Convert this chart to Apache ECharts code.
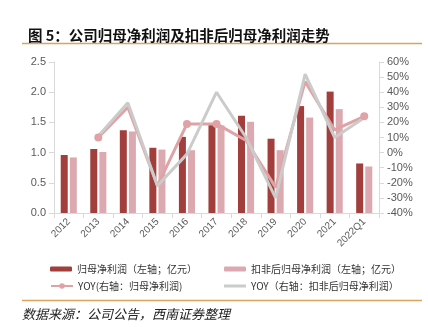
<!DOCTYPE html>
<html>
<head>
<meta charset="utf-8">
<script src="https://cdn.jsdelivr.net/npm/echarts@6/dist/echarts.min.js"></script>
<style>
  html, body { margin: 0; padding: 0; background: #fff; }
  #chart { width: 428px; height: 327px; }
</style>
</head>
<body>
<div id="chart"></div>
<script>
// Categories (years)
const categories = ['2012', '2013', '2014', '2015', '2016', '2017', '2018', '2019', '2020', '2021', '2022Q1'];
// Net profit attributable to parent (亿元)
const netProfit = [0.96, 1.06, 1.37, 1.08, 1.26, 1.47, 1.61, 1.23, 1.77, 2.01, 0.82];
// Net profit excluding non-recurring items (亿元)
const netProfitDeducted = [0.92, 1.01, 1.35, 1.05, 1.04, 1.45, 1.51, 1.04, 1.58, 1.72, 0.77];
// YoY growth, %
const yoyNetProfit = [null, 10, 30, -22, 19, 19, 8, -23, 47, 15, 24];
const yoyDeducted = [null, 11, 33, -22, -1, 40, 10, -30, 52, 10, 23];
// Points of the YoY line that carry a round marker
const markedPoints = ['2013', '2016', '2017', '2022Q1'];

const leftTicks = { min: 0, max: 2.5, interval: 0.5 };
const rightTicks = { min: -40, max: 60, interval: 10 };

const seriesNames = ['归母净利润（左轴；亿元）', '扣非后归母净利润（左轴；亿元）', 'YOY(右轴：归母净利润)', 'YOY（右轴：扣非后归母净利润）'];

const cDark = '#a23e3c';
const cLight = '#dda9b1';
const cPinkLine = '#dfa3a6';
const cGrey = '#cbcbcb';
const axisColor = '#d9d9d9';
const labelColor = '#595959';
const cjk = '"Noto Sans CJK SC", sans-serif';

const chart = echarts.init(document.getElementById('chart'), null, { renderer: 'canvas' });

function legendAt(name, left, top, w, h, extra) {
  return Object.assign({
    data: [name], left: left, top: top, itemWidth: w, itemHeight: h, itemGap: 4,
    textStyle: { fontSize: 10, color: '#333', fontFamily: cjk }, padding: 0
  }, extra || {});
}

const yoyPoints = yoyNetProfit.map((v, i) => ({
  value: v,
  symbolSize: markedPoints.includes(categories[i]) ? 8 : 0
}));

chart.setOption({
  animation: false,
  title: {
    text: '图 5：公司归母净利润及扣非后归母净利润走势',
    left: 23, top: 23,
    textStyle: { fontSize: 14.5, fontWeight: 'bold', color: '#111', fontFamily: cjk }
  },
  graphic: [
    { type: 'line', shape: { x1: 22, y1: 43.5, x2: 422, y2: 43.5 }, style: { stroke: '#dba35e', lineWidth: 1.5 } },
    { type: 'line', shape: { x1: 22, y1: 300.5, x2: 422, y2: 300.5 }, style: { stroke: '#dba35e', lineWidth: 1.5 } },
    { type: 'text', left: 22, top: 308, style: { text: '数据来源：公司公告，西南证券整理', font: 'italic 13px "Noto Sans CJK SC", sans-serif', fill: '#222' } }
  ],
  legend: [
    legendAt(seriesNames[0], 50, 264, 22, 5),
    legendAt(seriesNames[1], 224, 264, 22, 5),
    legendAt(seriesNames[2], 50, 281, 22, 7),
    legendAt(seriesNames[3], 224, 281, 22, 3, { icon: 'rect' })
  ],
  grid: { left: 54, right: 49, top: 62, bottom: 114, containLabel: false },
  xAxis: {
    type: 'category', data: categories,
    axisLine: { lineStyle: { color: axisColor } },
    axisTick: { show: true, alignWithLabel: false, lineStyle: { color: axisColor } },
    axisLabel: { rotate: 45, color: labelColor, fontSize: 10, margin: 7, fontFamily: 'Liberation Sans, Arial' }
  },
  yAxis: [
    {
      type: 'value', min: leftTicks.min, max: leftTicks.max, interval: leftTicks.interval,
      axisLine: { show: true, lineStyle: { color: axisColor } },
      axisTick: { show: true, lineStyle: { color: axisColor } },
      splitLine: { show: false },
      axisLabel: { color: labelColor, fontSize: 11, formatter: v => v.toFixed(1), fontFamily: 'Liberation Sans, Arial' }
    },
    {
      type: 'value', min: rightTicks.min, max: rightTicks.max, interval: rightTicks.interval,
      axisLine: { show: true, lineStyle: { color: axisColor } },
      axisTick: { show: true, lineStyle: { color: axisColor } },
      splitLine: { show: false },
      axisLabel: { color: labelColor, fontSize: 11, formatter: v => v + '%', fontFamily: 'Liberation Sans, Arial' }
    }
  ],
  series: [
    { name: seriesNames[0], type: 'bar', data: netProfit, barWidth: 7, barGap: '30%', itemStyle: { color: cDark } },
    { name: seriesNames[1], type: 'bar', data: netProfitDeducted, barWidth: 7, barGap: '30%', itemStyle: { color: cLight } },
    {
      name: seriesNames[2], type: 'line', yAxisIndex: 1, data: yoyPoints,
      symbol: 'circle', showAllSymbol: true,
      lineStyle: { color: cPinkLine, width: 3 }, itemStyle: { color: cPinkLine }
    },
    {
      name: seriesNames[3], type: 'line', yAxisIndex: 1, data: yoyDeducted,
      symbol: 'none', lineStyle: { color: cGrey, width: 3 }, itemStyle: { color: cGrey }
    }
  ]
});
</script>
</body>
</html>
